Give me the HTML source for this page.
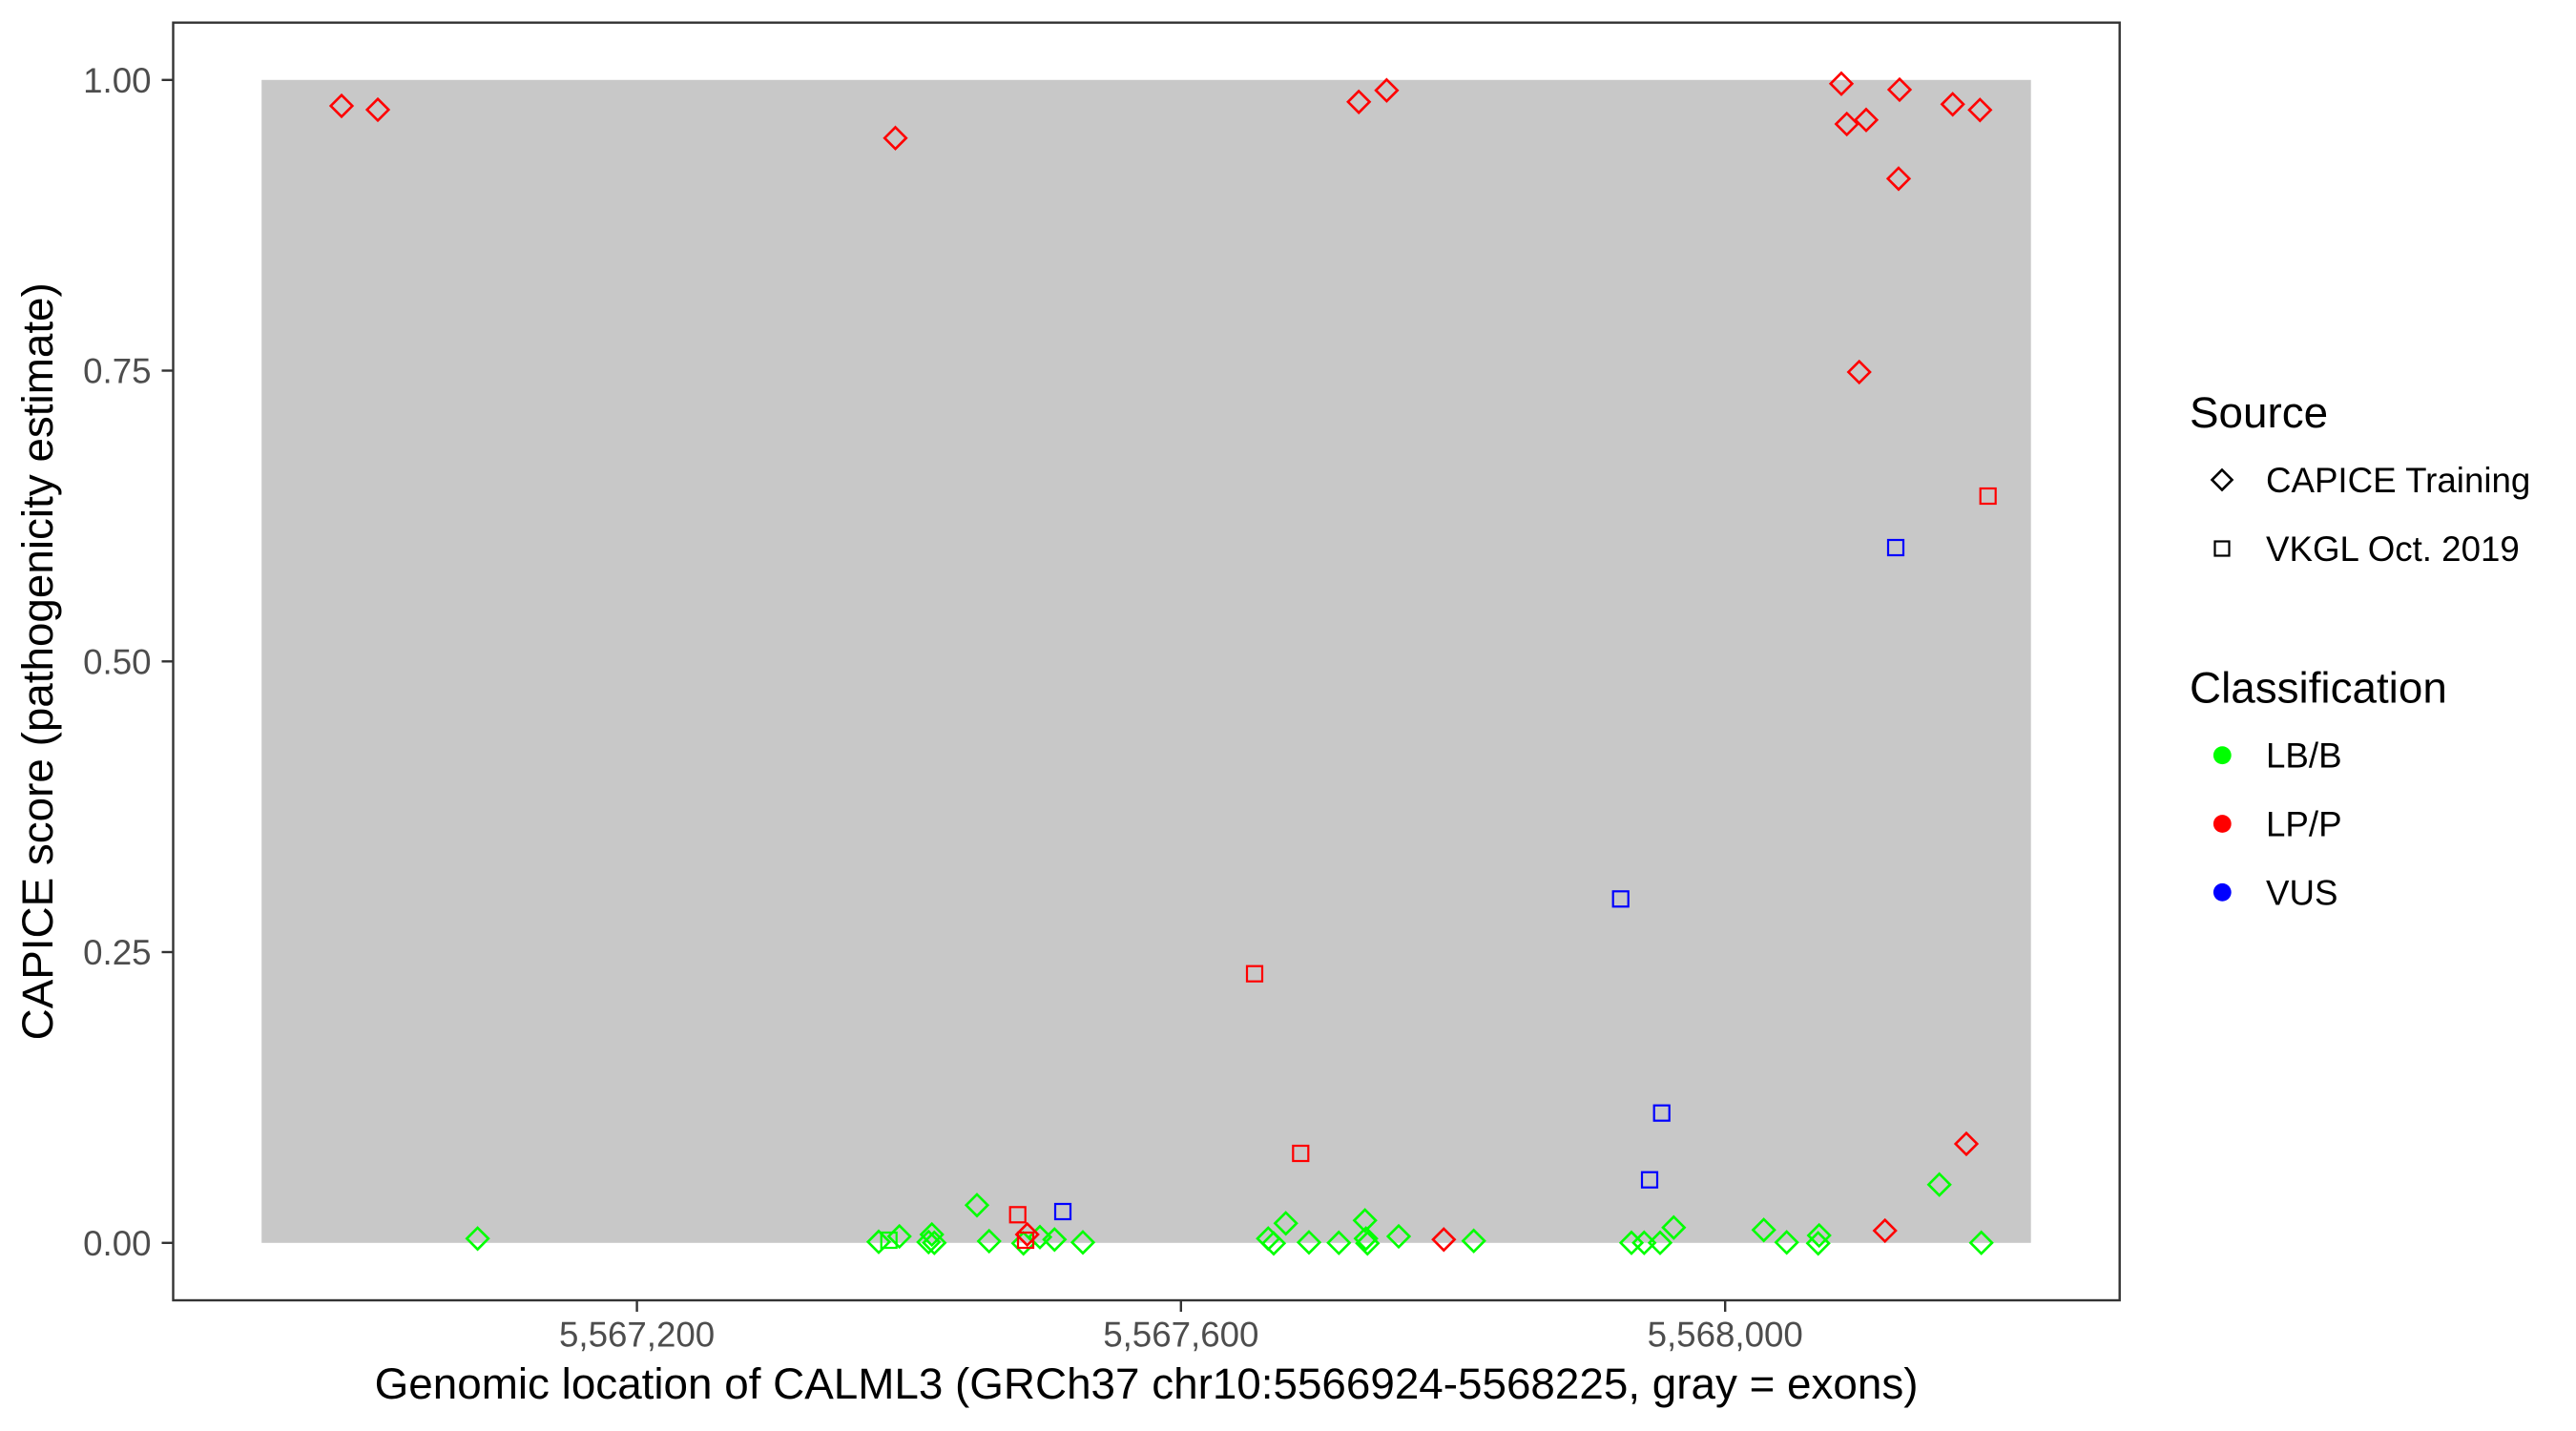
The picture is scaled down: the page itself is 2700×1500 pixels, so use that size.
<!DOCTYPE html>
<html>
<head>
<meta charset="utf-8">
<style>
html,body{margin:0;padding:0;background:#fff;}
svg{display:block;}
text{font-family:"Liberation Sans",Arial,sans-serif;}
</style>
</head>
<body>
<svg width="2700" height="1500" viewBox="0 0 2700 1500" xmlns="http://www.w3.org/2000/svg">
<rect x="0" y="0" width="2700" height="1500" fill="#fff"/>
<!-- exon gray -->
<rect x="274.2" y="83.8" width="1854.5" height="1219" fill="#C8C8C8"/>

<g fill="none" stroke-width="2.6" stroke-linejoin="miter">
<!-- green diamonds -->
<g stroke="#00FF00">
<path d="M500.6,1287L511.9,1298.3L500.6,1309.6L489.3,1298.3Z"/>
<path d="M921,1290.4L932.3,1301.7L921,1313L909.7,1301.7Z"/>
<path d="M942.7,1284.7L954,1296L942.7,1307.3L931.4,1296Z"/>
<path d="M976.7,1282.7L988,1294L976.7,1305.3L965.4,1294Z"/>
<path d="M973.3,1290.7L984.6,1302L973.3,1313.3L962,1302Z"/>
<path d="M979.3,1291.4L990.6,1302.7L979.3,1314L968,1302.7Z"/>
<path d="M1024,1252L1035.3,1263.3L1024,1274.6L1012.7,1263.3Z"/>
<path d="M1036.7,1289.7L1048,1301L1036.7,1312.3L1025.4,1301Z"/>
<path d="M1072.7,1292L1084,1303.3L1072.7,1314.6L1061.4,1303.3Z"/>
<path d="M1090,1285.4L1101.3,1296.7L1090,1308L1078.7,1296.7Z"/>
<path d="M1105.3,1288L1116.6,1299.3L1105.3,1310.6L1094,1299.3Z"/>
<path d="M1135,1291L1146.3,1302.3L1135,1313.6L1123.7,1302.3Z"/>
<path d="M1329.3,1287L1340.6,1298.3L1329.3,1309.6L1318,1298.3Z"/>
<path d="M1335,1292L1346.3,1303.3L1335,1314.6L1323.7,1303.3Z"/>
<path d="M1347.7,1271L1359,1282.3L1347.7,1293.6L1336.4,1282.3Z"/>
<path d="M1372,1291L1383.3,1302.3L1372,1313.6L1360.7,1302.3Z"/>
<path d="M1403.3,1291.4L1414.6,1302.7L1403.3,1314L1392,1302.7Z"/>
<path d="M1430.7,1268L1442,1279.3L1430.7,1290.6L1419.4,1279.3Z"/>
<path d="M1431.7,1287L1443,1298.3L1431.7,1309.6L1420.4,1298.3Z"/>
<path d="M1433.3,1292L1444.6,1303.3L1433.3,1314.6L1422,1303.3Z"/>
<path d="M1466,1284.7L1477.3,1296L1466,1307.3L1454.7,1296Z"/>
<path d="M1544.7,1289.4L1556,1300.7L1544.7,1312L1533.4,1300.7Z"/>
<path d="M1710,1291.4L1721.3,1302.7L1710,1314L1698.7,1302.7Z"/>
<path d="M1723.3,1291.4L1734.6,1302.7L1723.3,1314L1712,1302.7Z"/>
<path d="M1740,1291.4L1751.3,1302.7L1740,1314L1728.7,1302.7Z"/>
<path d="M1754.3,1275.4L1765.6,1286.7L1754.3,1298L1743,1286.7Z"/>
<path d="M1848.7,1278L1860,1289.3L1848.7,1300.6L1837.4,1289.3Z"/>
<path d="M1872.7,1291L1884,1302.3L1872.7,1313.6L1861.4,1302.3Z"/>
<path d="M1906.7,1283.7L1918,1295L1906.7,1306.3L1895.4,1295Z"/>
<path d="M1905.7,1292L1917,1303.3L1905.7,1314.6L1894.4,1303.3Z"/>
<path d="M2032.7,1230.4L2044,1241.7L2032.7,1253L2021.4,1241.7Z"/>
<path d="M2076.7,1291.4L2088,1302.7L2076.7,1314L2065.4,1302.7Z"/>
</g>
<g stroke="#00FF00" stroke-width="2.2">
<rect x="923.7" y="1292" width="16" height="16"/>
</g>
<!-- red diamonds -->
<g stroke="#FF0000">
<path d="M358,99.7L369.3,111L358,122.3L346.7,111Z"/>
<path d="M396,103.7L407.3,115L396,126.3L384.7,115Z"/>
<path d="M938.5,133.4L949.8,144.7L938.5,156L927.2,144.7Z"/>
<path d="M1424.2,95.5L1435.5,106.8L1424.2,118.1L1412.9,106.8Z"/>
<path d="M1453.4,83.4L1464.7,94.7L1453.4,106L1442.1,94.7Z"/>
<path d="M1930,76.4L1941.3,87.7L1930,99L1918.7,87.7Z"/>
<path d="M1991,82.7L2002.3,94L1991,105.3L1979.7,94Z"/>
<path d="M1935.7,118.7L1947,130L1935.7,141.3L1924.4,130Z"/>
<path d="M1956,114.4L1967.3,125.7L1956,137L1944.7,125.7Z"/>
<path d="M2046.7,98L2058,109.3L2046.7,120.6L2035.4,109.3Z"/>
<path d="M2075.3,104L2086.6,115.3L2075.3,126.6L2064,115.3Z"/>
<path d="M1990,176L2001.3,187.3L1990,198.6L1978.7,187.3Z"/>
<path d="M1948.7,378.7L1960,390L1948.7,401.3L1937.4,390Z"/>
<path d="M1076.7,1282.7L1088,1294L1076.7,1305.3L1065.4,1294Z"/>
<path d="M1513.3,1288L1524.6,1299.3L1513.3,1310.6L1502,1299.3Z"/>
<path d="M1975.7,1278.7L1987,1290L1975.7,1301.3L1964.4,1290Z"/>
<path d="M2061,1187.7L2072.3,1199L2061,1210.3L2049.7,1199Z"/>
</g>
<!-- red squares -->
<g stroke="#FF0000" stroke-width="2.2">
<rect x="2075.7" y="512" width="16" height="16"/>
<rect x="1307" y="1012.7" width="16" height="16"/>
<rect x="1355.3" y="1201" width="16" height="16"/>
<rect x="1058.7" y="1265.3" width="16" height="16"/>
<rect x="1067" y="1292" width="16" height="16"/>
</g>
<!-- blue squares -->
<g stroke="#0000FF" stroke-width="2.2">
<rect x="1979" y="566" width="16" height="16"/>
<rect x="1690.7" y="934.3" width="16" height="16"/>
<rect x="1733.7" y="1158.7" width="16" height="16"/>
<rect x="1721" y="1228.7" width="16" height="16"/>
<rect x="1106" y="1262" width="16" height="16"/>
</g>
</g>

<!-- panel border -->
<rect x="181.5" y="23.7" width="2040.2" height="1339.3" fill="none" stroke="#333333" stroke-width="2.4"/>

<!-- y ticks -->
<g stroke="#333333" stroke-width="2.4">
<line x1="169.5" y1="83.8" x2="181.5" y2="83.8"/>
<line x1="169.5" y1="388.5" x2="181.5" y2="388.5"/>
<line x1="169.5" y1="693.3" x2="181.5" y2="693.3"/>
<line x1="169.5" y1="998" x2="181.5" y2="998"/>
<line x1="169.5" y1="1302.8" x2="181.5" y2="1302.8"/>
<line x1="667.6" y1="1363" x2="667.6" y2="1375"/>
<line x1="1237.8" y1="1363" x2="1237.8" y2="1375"/>
<line x1="1808.2" y1="1363" x2="1808.2" y2="1375"/>
</g>
<g fill="#4D4D4D" font-size="36.7" text-anchor="end">
<text x="158.5" y="96.8">1.00</text>
<text x="158.5" y="401.5">0.75</text>
<text x="158.5" y="706.3">0.50</text>
<text x="158.5" y="1011">0.25</text>
<text x="158.5" y="1315.8">0.00</text>
</g>
<g fill="#4D4D4D" font-size="36.7" text-anchor="middle">
<text x="667.6" y="1411.7">5,567,200</text>
<text x="1237.8" y="1411.7">5,567,600</text>
<text x="1808.2" y="1411.7">5,568,000</text>
</g>

<!-- axis titles -->
<text x="1201.6" y="1466" font-size="45.8" text-anchor="middle" fill="#000">Genomic location of CALML3 (GRCh37 chr10:5566924-5568225, gray = exons)</text>
<text transform="translate(55,693.3) rotate(-90)" font-size="45.8" text-anchor="middle" fill="#000">CAPICE score (pathogenicity estimate)</text>

<!-- legend: Source -->
<text x="2295" y="448" font-size="45.8" fill="#000">Source</text>
<path d="M2329,492.5L2339.5,503L2329,513.5L2318.5,503Z" fill="none" stroke="#000" stroke-width="2.6"/>
<text x="2375" y="516" font-size="36.7" fill="#000">CAPICE Training</text>
<rect x="2321.5" y="567.5" width="15" height="15" fill="none" stroke="#000" stroke-width="2.2"/>
<text x="2375" y="588" font-size="36.7" fill="#000">VKGL Oct. 2019</text>

<!-- legend: Classification -->
<text x="2295" y="736.7" font-size="45.8" fill="#000">Classification</text>
<circle cx="2329.3" cy="791.7" r="9.4" fill="#00FF00"/>
<text x="2375" y="804.7" font-size="36.7" fill="#000">LB/B</text>
<circle cx="2329.3" cy="863.5" r="9.4" fill="#FF0000"/>
<text x="2375" y="876.5" font-size="36.7" fill="#000">LP/P</text>
<circle cx="2329.3" cy="935.3" r="9.4" fill="#0000FF"/>
<text x="2375" y="948.3" font-size="36.7" fill="#000">VUS</text>
</svg>
</body>
</html>
